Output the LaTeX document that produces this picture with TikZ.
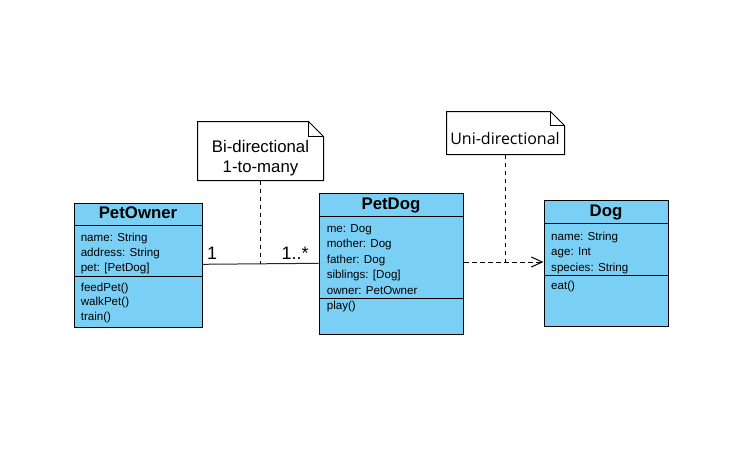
\documentclass[tikz,border=0pt]{standalone}
\usepackage{fontspec}
\setmainfont{Liberation Sans}
\newfontfamily\notefont{Open Sans}
\usetikzlibrary{arrows.meta,calc}
\definecolor{classblue}{RGB}{122,207,245}
\begin{document}
\begin{tikzpicture}[x=0.75pt,y=-0.75pt,line width=0.75pt,
  classbox/.style={draw=black,fill=classblue,rectangle,inner sep=0pt},
  classtitle/.style={anchor=base,font=\fontsize{12.6}{15}\selectfont\bfseries,inner sep=0pt},
  member/.style={anchor=base west,font=\fontsize{8.7}{10}\selectfont,inner sep=0pt},
  notebox/.style={rectangle,inner sep=0pt},
  notetext/.style={anchor=base,font=\fontsize{12.6}{15}\selectfont,inner sep=0pt},
  multlabel/.style={anchor=base west,font=\fontsize{13.5}{15}\selectfont,inner sep=0pt},
  assoc/.style={draw=black!85},
  notelink/.style={dash pattern=on 3.5pt off 2.5pt},
  dep/.style={dash pattern=on 3.75pt off 2.25pt,-{Straight Barb[length=8.25pt,width=7.5pt,line width=0.75pt]}}]
\useasboundingbox (0,0) rectangle (750,464);

% ---------- PetOwner ----------
\node[classbox,minimum width=96pt,minimum height=93pt] (po) at (138,265) {};
\draw ($(po.north west)+(0,23)$) -- ($(po.north east)+(0,23)$);
\draw ($(po.north west)+(0,73.5)$) -- ($(po.north east)+(0,73.5)$);
\node[classtitle] (poT) at (138,218.3) {PetOwner};
\node[member] (po1) at (80.3,241.3) {name: String};
\node[member] (po2) at (80.3,256.3) {address: String};
\node[member] (po3) at (80.3,271.3) {pet: [PetDog]};
\node[member] (po4) at (80.3,291) {feedPet()};
\node[member] (po5) at (80.3,305.5) {walkPet()};
\node[member] (po6) at (80.3,320.3) {train()};

% ---------- PetDog ----------
\node[classbox,minimum width=108pt,minimum height=105.75pt] (pd) at (391,263.5) {};
\draw ($(pd.north west)+(0,24)$) -- ($(pd.north east)+(0,24)$);
\draw ($(pd.north west)+(0,106)$) -- ($(pd.north east)+(0,106)$);
\node[classtitle] (pdT) at (391,209.3) {PetDog};
\node[member] (pd1) at (326.3,232.5) {me: Dog};
\node[member] (pd2) at (326.3,247.8) {mother: Dog};
\node[member] (pd3) at (326.3,263) {father: Dog};
\node[member] (pd4) at (326.3,278.5) {siblings: [Dog]};
\node[member] (pd5) at (326.3,294) {owner: PetOwner};
\node[member] (pd6) at (326.3,309.5) {play()};

% ---------- Dog ----------
\node[classbox,minimum width=93pt,minimum height=94.5pt] (dg) at (606,263) {};
\draw ($(dg.north west)+(0,24)$) -- ($(dg.north east)+(0,24)$);
\draw ($(dg.north west)+(0,76)$) -- ($(dg.north east)+(0,76)$);
\node[classtitle] (dgT) at (606,216.7) {Dog};
\node[member] (dg1) at (550.7,240) {name: String};
\node[member] (dg2) at (550.7,255.5) {age: Int};
\node[member] (dg3) at (550.7,271) {species: String};
\node[member] (dg4) at (550.7,289) {eat()};

% ---------- Notes ----------
\node[notebox,minimum width=93.75pt,minimum height=43.5pt] (bi) at (260.5,151) {};
\draw[fill=white] (bi.north west) -- ($(bi.north east)+(-15,0)$) -- ($(bi.north east)+(0,15)$) -- (bi.south east) -- (bi.south west) -- cycle;
\draw ($(bi.north east)+(-15,0)$) -- ($(bi.north east)+(-15,15)$) -- ($(bi.north east)+(0,15)$);
\node[notetext] (bi1) at (260.5,152.3) {Bi-directional};
\node[notetext] (bi2) at (260.5,172) {1-to-many};

\node[notebox,minimum width=87.75pt,minimum height=31.5pt] (un) at (505.5,133) {};
\draw[fill=white] (un.north west) -- ($(un.north east)+(-14,0)$) -- ($(un.north east)+(0,14)$) -- (un.south east) -- (un.south west) -- cycle;
\draw ($(un.north east)+(-14,0)$) -- ($(un.north east)+(-14,14)$) -- ($(un.north east)+(0,14)$);
\node[notetext,font=\notefont\fontsize{12}{15}\selectfont] (un1) at (505,144.3) {Uni-directional};

% ---------- Connectors ----------
\draw[assoc] ($(po.east)+(0,-0.7)$) -- ($(pd.west)+(0,-0.2)$);
\node[multlabel] (m1) at (206.5,259) {1};
\node[multlabel] (m2) at (281,259) {1..*};
\draw[notelink] (bi.south) -- ($(bi.south |- po.east)+(0,-1)$);

\draw[dep] ($(pd.east)+(0,-1.5)$) -- ($(dg.west)+(0,-1)$);
\draw[notelink] (un.south) -- ($(un.south |- dg.west)+(0,-1)$);
\end{tikzpicture}
\end{document}
